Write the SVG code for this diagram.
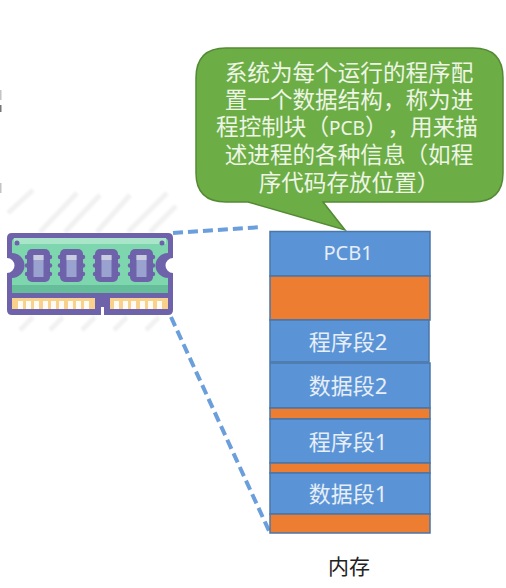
<svg xmlns="http://www.w3.org/2000/svg" width="506" height="588" viewBox="0 0 506 588">
<defs>
<filter id="soft" x="-10%" y="-10%" width="120%" height="120%"><feGaussianBlur stdDeviation="0.6"/></filter>
<filter id="haze" x="-10%" y="-10%" width="120%" height="120%"><feGaussianBlur stdDeviation="1.2"/></filter>
<g id="chip">
<rect x="0" y="0" width="23" height="33" rx="5" class="m"/>
<circle cx="0" cy="8" r="2.2" class="m"/><circle cx="0" cy="16.500" r="2.2" class="m"/><circle cx="0" cy="25" r="2.2" class="m"/>
<circle cx="23" cy="8" r="2.2" class="m"/><circle cx="23" cy="16.500" r="2.2" class="m"/><circle cx="23" cy="25" r="2.2" class="m"/>
<rect x="6.500" y="6" width="10" height="22" class="p"/>
<rect x="6.500" y="6" width="10" height="5" fill="#c9cce0"/>
</g>
</defs>
<style>
text{font-family:"Liberation Sans","Noto Sans CJK SC",sans-serif;text-anchor:middle;text-spacing-trim:space-all}
.b{fill:#5b94d6;stroke:#4a76a8;stroke-width:1.5}
.o{fill:#ed7d31;stroke:#4a76a8;stroke-width:1.5}
.w{fill:#e6eef8;font-size:22px}
.c{fill:#eef5e6;font-size:22.6px}
.l{font-family:"Noto Sans",sans-serif;font-size:19px}
.h{stroke:#f1f1f1;stroke-width:5;fill:none}
.d{stroke:#6b9fdb;stroke-width:4;stroke-dasharray:10 5;fill:none}
.m{fill:#6e62ab}
.p{fill:#9aa3d0}
.t{fill:#fdfbf3}
.g{fill:#c4c4c4}
</style>
<rect width="506" height="588" fill="#fff"/>
<g id="specks">
<rect class="g" x="0" y="90" width="1.5" height="10"/>
<rect x="0" y="105" width="1.5" height="7" fill="#777"/>
<rect class="g" x="0" y="183" width="1.5" height="10"/>
</g>
<g id="hatch" filter="url(#haze)">
<path class="h" d="M8 213L33 190M40 232L77 193M65 232L100 195M97 232L130 195M128 232L167 193M150 232L176 206"/>
<path class="h" d="M20 330L33 317M50 330L63 317M82 330L95 317M114 330L127 317M146 330L159 317"/>
</g>
<g id="connectors">
<path class="d" d="M173 233L262 227"/>
<path class="d" d="M171 317L270 533"/>
</g>
<g id="ram" filter="url(#soft)">
<path class="m" d="M12 233H168Q173 233 173 238V258A7.5 7.5 0 0 0 173 273V310Q173 315 168 315H104V307H101V315H12Q7 315 7 310V273A7.5 7.5 0 0 0 7 258V238Q7 233 12 233Z"/>
<path fill="#7dd6ad" d="M16 238H164Q168 238 168 242V253A12.5 12.5 0 0 0 168 278V293H12V278A12.5 12.5 0 0 0 12 253V242Q12 238 16 238Z"/>
<rect x="14" y="238" width="152" height="6" fill="#a9e6c9"/>
<rect x="12" y="285" width="156" height="8" fill="#65bd9a"/>
<circle cx="17" cy="243" r="2.5" class="m"/><circle cx="162" cy="243" r="2.5" class="m"/>
<g id="chips">
<use href="#chip" x="27" y="249"/>
<use href="#chip" x="60" y="249"/>
<use href="#chip" x="95" y="249"/>
<use href="#chip" x="130" y="249"/>
</g>
<rect x="12" y="298" width="83" height="11" fill="#f8d28c"/>
<rect x="110" y="298" width="58" height="11" fill="#f8d28c"/>
<path class="t" d="M18 301h5v8h-5zM26 301h5v8h-5zM34 301h5v8h-5zM43 301h5v8h-5zM51 301h5v8h-5zM59 301h5v8h-5zM68 301h5v8h-5zM76 301h5v8h-5zM84 301h5v8h-5zM114 301h5v8h-5zM123 301h5v8h-5zM131 301h5v8h-5zM140 301h5v8h-5zM148 301h5v8h-5zM157 301h5v8h-5z"/>
</g>
<g id="callout">
<path d="M226 48H473Q503 48 503 78V173Q503 202 473 202H323L345 230L248 202H226Q196 202 196 173V78Q196 48 226 48Z" fill="#6cae45" stroke="#548a35" stroke-width="1.5"/>
<text class="c" x="349" y="81">系统为每个运行的程序配</text>
<text class="c" x="349" y="108">置一个数据结构，称为进</text>
<text class="c" x="347" y="135">程控制块（<tspan class="l">PCB</tspan>），用来描</text>
<text class="c" x="349" y="163">述进程的各种信息（如程</text>
<text class="c" x="349" y="191">序代码存放位置）</text>
</g>
<g id="memory">
<g id="pcb1"><rect class="b" x="270" y="231.500" width="160" height="44.500"/><text class="w" x="348" y="260" style="font-family:'Noto Sans',sans-serif;font-size:20px">PCB1</text></g>
<g id="free1"><rect class="o" x="270" y="276" width="160" height="44"/></g>
<g id="prog2"><rect class="b" x="270" y="320" width="159" height="42"/><text class="w" x="348" y="350">程序段<tspan style="font-family:'Noto Sans',sans-serif">2</tspan></text></g>
<g id="data2"><rect class="b" x="270" y="363" width="160" height="45"/><text class="w" x="348" y="394">数据段<tspan style="font-family:'Noto Sans',sans-serif">2</tspan></text></g>
<g id="free2"><rect class="o" x="270" y="408" width="160" height="11"/></g>
<g id="prog1"><rect class="b" x="270" y="419" width="160" height="44"/><text class="w" x="348" y="450">程序段<tspan style="font-family:'Noto Sans',sans-serif">1</tspan></text></g>
<g id="free3"><rect class="o" x="270" y="463" width="160" height="10"/></g>
<g id="data1"><rect class="b" x="270" y="473" width="160" height="41"/><text class="w" x="348" y="502">数据段<tspan style="font-family:'Noto Sans',sans-serif">1</tspan></text></g>
<g id="free4"><rect class="o" x="270" y="514" width="160" height="19"/></g>
</g>
<text id="label" x="349" y="574" font-size="21" fill="#222">内存</text>
</svg>
